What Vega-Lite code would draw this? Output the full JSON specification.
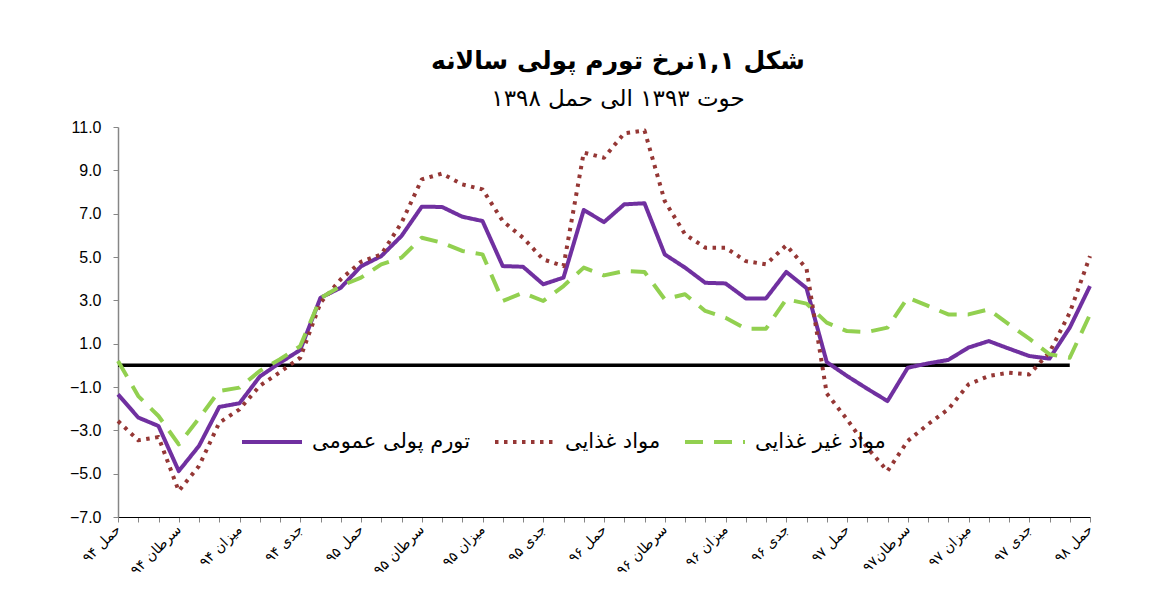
{
  "$schema": "https://vega.github.io/schema/vega-lite/v6.json",
  "width": 972,
  "height": 390,
  "autosize": {"type": "none"},
  "padding": {"left": 118, "top": 127, "right": 72, "bottom": 87},
  "background": "white",
  "title": {
    "text": "شکل ۱,۱نرخ تورم پولی سالانه",
    "subtitle": "حوت ۱۳۹۳ الی حمل ۱۳۹۸",
    "anchor": "middle",
    "dx": 14,
    "offset": 8,
    "font": "DejaVu Sans",
    "fontSize": 25,
    "fontWeight": "bold",
    "color": "black",
    "subtitleFont": "DejaVu Sans",
    "subtitleFontSize": 23,
    "subtitleColor": "black",
    "subtitlePadding": 14
  },
  "config": {"view": {"stroke": null}},
  "layer": [
    {
      "data": {"values": [{}]},
      "mark": {"type": "rule", "color": "black", "strokeWidth": 3.5},
      "encoding": {
        "x": {"datum": "حمل ۹۴", "type": "ordinal"},
        "x2": {"datum": "حوت ۹۷"},
        "y": {"datum": 0, "type": "quantitative"}
      }
    },
    {
      "data": {"values": [
        {"m": "حمل ۹۴", "s": "تورم پولی عمومی", "v": -1.34},
        {"m": "ثور ۹۴", "s": "تورم پولی عمومی", "v": -2.41},
        {"m": "جوزا ۹۴", "s": "تورم پولی عمومی", "v": -2.8},
        {"m": "سرطان ۹۴", "s": "تورم پولی عمومی", "v": -4.88},
        {"m": "اسد ۹۴", "s": "تورم پولی عمومی", "v": -3.72},
        {"m": "سنبله ۹۴", "s": "تورم پولی عمومی", "v": -1.92},
        {"m": "میزان ۹۴", "s": "تورم پولی عمومی", "v": -1.75},
        {"m": "عقرب ۹۴", "s": "تورم پولی عمومی", "v": -0.52},
        {"m": "قوس ۹۴", "s": "تورم پولی عمومی", "v": 0.12},
        {"m": "جدی ۹۴", "s": "تورم پولی عمومی", "v": 0.71},
        {"m": "دلو ۹۴", "s": "تورم پولی عمومی", "v": 3.12},
        {"m": "حوت ۹۴", "s": "تورم پولی عمومی", "v": 3.58},
        {"m": "حمل ۹۵", "s": "تورم پولی عمومی", "v": 4.57},
        {"m": "ثور ۹۵", "s": "تورم پولی عمومی", "v": 5.04},
        {"m": "جوزا ۹۵", "s": "تورم پولی عمومی", "v": 5.97},
        {"m": "سرطان ۹۵", "s": "تورم پولی عمومی", "v": 7.32},
        {"m": "اسد ۹۵", "s": "تورم پولی عمومی", "v": 7.31},
        {"m": "سنبله ۹۵", "s": "تورم پولی عمومی", "v": 6.86},
        {"m": "میزان ۹۵", "s": "تورم پولی عمومی", "v": 6.66},
        {"m": "عقرب ۹۵", "s": "تورم پولی عمومی", "v": 4.58},
        {"m": "قوس ۹۵", "s": "تورم پولی عمومی", "v": 4.55},
        {"m": "جدی ۹۵", "s": "تورم پولی عمومی", "v": 3.74},
        {"m": "دلو ۹۵", "s": "تورم پولی عمومی", "v": 4.05},
        {"m": "حوت ۹۵", "s": "تورم پولی عمومی", "v": 7.17},
        {"m": "حمل ۹۶", "s": "تورم پولی عمومی", "v": 6.61},
        {"m": "ثور ۹۶", "s": "تورم پولی عمومی", "v": 7.43},
        {"m": "جوزا ۹۶", "s": "تورم پولی عمومی", "v": 7.48},
        {"m": "سرطان ۹۶", "s": "تورم پولی عمومی", "v": 5.12},
        {"m": "اسد ۹۶", "s": "تورم پولی عمومی", "v": 4.51},
        {"m": "سنبله ۹۶", "s": "تورم پولی عمومی", "v": 3.81},
        {"m": "میزان ۹۶", "s": "تورم پولی عمومی", "v": 3.78},
        {"m": "عقرب ۹۶", "s": "تورم پولی عمومی", "v": 3.09},
        {"m": "قوس ۹۶", "s": "تورم پولی عمومی", "v": 3.09},
        {"m": "جدی ۹۶", "s": "تورم پولی عمومی", "v": 4.31},
        {"m": "دلو ۹۶", "s": "تورم پولی عمومی", "v": 3.56},
        {"m": "حوت ۹۶", "s": "تورم پولی عمومی", "v": 0.15},
        {"m": "حمل ۹۷", "s": "تورم پولی عمومی", "v": -0.49},
        {"m": "ثور ۹۷", "s": "تورم پولی عمومی", "v": -1.08},
        {"m": "جوزا ۹۷", "s": "تورم پولی عمومی", "v": -1.65},
        {"m": "سرطان۹۷", "s": "تورم پولی عمومی", "v": -0.11},
        {"m": "اسد ۹۷", "s": "تورم پولی عمومی", "v": 0.09},
        {"m": "سنبله ۹۷", "s": "تورم پولی عمومی", "v": 0.25},
        {"m": "میزان ۹۷", "s": "تورم پولی عمومی", "v": 0.82},
        {"m": "عقرب ۹۷", "s": "تورم پولی عمومی", "v": 1.12},
        {"m": "قوس ۹۷", "s": "تورم پولی عمومی", "v": 0.77},
        {"m": "جدی ۹۷", "s": "تورم پولی عمومی", "v": 0.43},
        {"m": "دلو ۹۷", "s": "تورم پولی عمومی", "v": 0.31},
        {"m": "حوت ۹۷", "s": "تورم پولی عمومی", "v": 1.74},
        {"m": "حمل ۹۸", "s": "تورم پولی عمومی", "v": 3.66},

        {"m": "حمل ۹۴", "s": "مواد غذایی", "v": -2.57},
        {"m": "ثور ۹۴", "s": "مواد غذایی", "v": -3.46},
        {"m": "جوزا ۹۴", "s": "مواد غذایی", "v": -3.31},
        {"m": "سرطان ۹۴", "s": "مواد غذایی", "v": -5.8},
        {"m": "اسد ۹۴", "s": "مواد غذایی", "v": -4.65},
        {"m": "سنبله ۹۴", "s": "مواد غذایی", "v": -2.65},
        {"m": "میزان ۹۴", "s": "مواد غذایی", "v": -2.03},
        {"m": "عقرب ۹۴", "s": "مواد غذایی", "v": -0.95},
        {"m": "قوس ۹۴", "s": "مواد غذایی", "v": -0.31},
        {"m": "جدی ۹۴", "s": "مواد غذایی", "v": 0.35},
        {"m": "دلو ۹۴", "s": "مواد غذایی", "v": 2.89},
        {"m": "حوت ۹۴", "s": "مواد غذایی", "v": 3.97},
        {"m": "حمل ۹۵", "s": "مواد غذایی", "v": 4.78},
        {"m": "ثور ۹۵", "s": "مواد غذایی", "v": 5.12},
        {"m": "جوزا ۹۵", "s": "مواد غذایی", "v": 6.58},
        {"m": "سرطان ۹۵", "s": "مواد غذایی", "v": 8.58},
        {"m": "اسد ۹۵", "s": "مواد غذایی", "v": 8.85},
        {"m": "سنبله ۹۵", "s": "مواد غذایی", "v": 8.35},
        {"m": "میزان ۹۵", "s": "مواد غذایی", "v": 8.12},
        {"m": "عقرب ۹۵", "s": "مواد غذایی", "v": 6.66},
        {"m": "قوس ۹۵", "s": "مواد غذایی", "v": 5.89},
        {"m": "جدی ۹۵", "s": "مواد غذایی", "v": 4.89},
        {"m": "دلو ۹۵", "s": "مواد غذایی", "v": 4.58},
        {"m": "حوت ۹۵", "s": "مواد غذایی", "v": 9.82},
        {"m": "حمل ۹۶", "s": "مواد غذایی", "v": 9.58},
        {"m": "ثور ۹۶", "s": "مواد غذایی", "v": 10.71},
        {"m": "جوزا ۹۶", "s": "مواد غذایی", "v": 10.84},
        {"m": "سرطان ۹۶", "s": "مواد غذایی", "v": 7.58},
        {"m": "اسد ۹۶", "s": "مواد غذایی", "v": 6.05},
        {"m": "سنبله ۹۶", "s": "مواد غذایی", "v": 5.43},
        {"m": "میزان ۹۶", "s": "مواد غذایی", "v": 5.43},
        {"m": "عقرب ۹۶", "s": "مواد غذایی", "v": 4.81},
        {"m": "قوس ۹۶", "s": "مواد غذایی", "v": 4.66},
        {"m": "جدی ۹۶", "s": "مواد غذایی", "v": 5.54},
        {"m": "دلو ۹۶", "s": "مواد غذایی", "v": 4.47},
        {"m": "حوت ۹۶", "s": "مواد غذایی", "v": -1.3},
        {"m": "حمل ۹۷", "s": "مواد غذایی", "v": -2.49},
        {"m": "ثور ۹۷", "s": "مواد غذایی", "v": -3.8},
        {"m": "جوزا ۹۷", "s": "مواد غذایی", "v": -4.88},
        {"m": "سرطان۹۷", "s": "مواد غذایی", "v": -3.49},
        {"m": "اسد ۹۷", "s": "مواد غذایی", "v": -2.72},
        {"m": "سنبله ۹۷", "s": "مواد غذایی", "v": -2.03},
        {"m": "میزان ۹۷", "s": "مواد غذایی", "v": -0.88},
        {"m": "عقرب ۹۷", "s": "مواد غذایی", "v": -0.49},
        {"m": "قوس ۹۷", "s": "مواد غذایی", "v": -0.34},
        {"m": "جدی ۹۷", "s": "مواد غذایی", "v": -0.42},
        {"m": "دلو ۹۷", "s": "مواد غذایی", "v": 0.6},
        {"m": "حوت ۹۷", "s": "مواد غذایی", "v": 2.43},
        {"m": "حمل ۹۸", "s": "مواد غذایی", "v": 5.04},

        {"m": "حمل ۹۴", "s": "مواد غیر غذایی", "v": 0.2},
        {"m": "ثور ۹۴", "s": "مواد غیر غذایی", "v": -1.42},
        {"m": "جوزا ۹۴", "s": "مواد غیر غذایی", "v": -2.34},
        {"m": "سرطان ۹۴", "s": "مواد غیر غذایی", "v": -3.65},
        {"m": "اسد ۹۴", "s": "مواد غیر غذایی", "v": -2.45},
        {"m": "سنبله ۹۴", "s": "مواد غیر غذایی", "v": -1.18},
        {"m": "میزان ۹۴", "s": "مواد غیر غذایی", "v": -1.03},
        {"m": "عقرب ۹۴", "s": "مواد غیر غذایی", "v": -0.26},
        {"m": "قوس ۹۴", "s": "مواد غیر غذایی", "v": 0.28},
        {"m": "جدی ۹۴", "s": "مواد غیر غذایی", "v": 0.89},
        {"m": "دلو ۹۴", "s": "مواد غیر غذایی", "v": 3.1},
        {"m": "حوت ۹۴", "s": "مواد غیر غذایی", "v": 3.66},
        {"m": "حمل ۹۵", "s": "مواد غیر غذایی", "v": 4.05},
        {"m": "ثور ۹۵", "s": "مواد غیر غذایی", "v": 4.66},
        {"m": "جوزا ۹۵", "s": "مواد غیر غذایی", "v": 4.97},
        {"m": "سرطان ۹۵", "s": "مواد غیر غذایی", "v": 5.89},
        {"m": "اسد ۹۵", "s": "مواد غیر غذایی", "v": 5.66},
        {"m": "سنبله ۹۵", "s": "مواد غیر غذایی", "v": 5.28},
        {"m": "میزان ۹۵", "s": "مواد غیر غذایی", "v": 5.12},
        {"m": "عقرب ۹۵", "s": "مواد غیر غذایی", "v": 2.97},
        {"m": "قوس ۹۵", "s": "مواد غیر غذایی", "v": 3.35},
        {"m": "جدی ۹۵", "s": "مواد غیر غذایی", "v": 2.97},
        {"m": "دلو ۹۵", "s": "مواد غیر غذایی", "v": 3.66},
        {"m": "حوت ۹۵", "s": "مواد غیر غذایی", "v": 4.51},
        {"m": "حمل ۹۶", "s": "مواد غیر غذایی", "v": 4.15},
        {"m": "ثور ۹۶", "s": "مواد غیر غذایی", "v": 4.35},
        {"m": "جوزا ۹۶", "s": "مواد غیر غذایی", "v": 4.31},
        {"m": "سرطان ۹۶", "s": "مواد غیر غذایی", "v": 3.05},
        {"m": "اسد ۹۶", "s": "مواد غیر غذایی", "v": 3.28},
        {"m": "سنبله ۹۶", "s": "مواد غیر غذایی", "v": 2.51},
        {"m": "میزان ۹۶", "s": "مواد غیر غذایی", "v": 2.2},
        {"m": "عقرب ۹۶", "s": "مواد غیر غذایی", "v": 1.69},
        {"m": "قوس ۹۶", "s": "مواد غیر غذایی", "v": 1.69},
        {"m": "جدی ۹۶", "s": "مواد غیر غذایی", "v": 3.05},
        {"m": "دلو ۹۶", "s": "مواد غیر غذایی", "v": 2.85},
        {"m": "حوت ۹۶", "s": "مواد غیر غذایی", "v": 1.97},
        {"m": "حمل ۹۷", "s": "مواد غیر غذایی", "v": 1.58},
        {"m": "ثور ۹۷", "s": "مواد غیر غذایی", "v": 1.54},
        {"m": "جوزا ۹۷", "s": "مواد غیر غذایی", "v": 1.74},
        {"m": "سرطان۹۷", "s": "مواد غیر غذایی", "v": 3.12},
        {"m": "اسد ۹۷", "s": "مواد غیر غذایی", "v": 2.74},
        {"m": "سنبله ۹۷", "s": "مواد غیر غذایی", "v": 2.35},
        {"m": "میزان ۹۷", "s": "مواد غیر غذایی", "v": 2.35},
        {"m": "عقرب ۹۷", "s": "مواد غیر غذایی", "v": 2.58},
        {"m": "قوس ۹۷", "s": "مواد غیر غذایی", "v": 1.89},
        {"m": "جدی ۹۷", "s": "مواد غیر غذایی", "v": 1.23},
        {"m": "دلو ۹۷", "s": "مواد غیر غذایی", "v": 0.51},
        {"m": "حوت ۹۷", "s": "مواد غیر غذایی", "v": 0.35},
        {"m": "حمل ۹۸", "s": "مواد غیر غذایی", "v": 2.35}
      ]},
      "mark": {"type": "line", "strokeWidth": 4, "strokeCap": "butt", "strokeJoin": "round"},
      "encoding": {
        "x": {
          "field": "m",
          "type": "ordinal",
          "sort": null,
          "scale": {
            "type": "point",
            "padding": 0,
            "domain": ["حمل ۹۴", "ثور ۹۴", "جوزا ۹۴", "سرطان ۹۴", "اسد ۹۴", "سنبله ۹۴", "میزان ۹۴", "عقرب ۹۴", "قوس ۹۴", "جدی ۹۴", "دلو ۹۴", "حوت ۹۴",
                       "حمل ۹۵", "ثور ۹۵", "جوزا ۹۵", "سرطان ۹۵", "اسد ۹۵", "سنبله ۹۵", "میزان ۹۵", "عقرب ۹۵", "قوس ۹۵", "جدی ۹۵", "دلو ۹۵", "حوت ۹۵",
                       "حمل ۹۶", "ثور ۹۶", "جوزا ۹۶", "سرطان ۹۶", "اسد ۹۶", "سنبله ۹۶", "میزان ۹۶", "عقرب ۹۶", "قوس ۹۶", "جدی ۹۶", "دلو ۹۶", "حوت ۹۶",
                       "حمل ۹۷", "ثور ۹۷", "جوزا ۹۷", "سرطان۹۷", "اسد ۹۷", "سنبله ۹۷", "میزان ۹۷", "عقرب ۹۷", "قوس ۹۷", "جدی ۹۷", "دلو ۹۷", "حوت ۹۷",
                       "حمل ۹۸"]
          },
          "axis": {
            "title": null,
            "labelAngle": -45,
            "labelFont": "DejaVu Sans",
            "labelFontSize": 14,
            "labelColor": "black",
            "labelOverlap": false,
            "labelExpr": "(indexof(datum.label,'حمل')==0 || indexof(datum.label,'سرطان')==0 || indexof(datum.label,'میزان')==0 || indexof(datum.label,'جدی')==0) ? datum.label : ''",
            "tickSize": 5,
            "tickColor": "#868686",
            "domainColor": "black",
            "domainWidth": 1,
            "labelPadding": 5,
            "grid": false
          }
        },
        "y": {
          "field": "v",
          "type": "quantitative",
          "scale": {"domain": [-7, 11], "nice": false, "zero": false},
          "axis": {
            "title": null,
            "values": [-7, -5, -3, -1, 1, 3, 5, 7, 9, 11],
            "format": ".1f",
            "labelFont": "Liberation Sans",
            "labelFontSize": 16,
            "labelColor": "black",
            "tickSize": 5,
            "tickColor": "#868686",
            "domainColor": "#868686",
            "domainWidth": 1.5,
            "labelPadding": 12,
            "grid": false
          }
        },
        "color": {
          "field": "s",
          "type": "nominal",
          "sort": null,
          "scale": {
            "domain": ["تورم پولی عمومی", "مواد غذایی", "مواد غیر غذایی"],
            "range": ["#7030A0", "#953735", "#92D050"]
          },
          "legend": {
            "title": null,
            "orient": "none",
            "legendX": 122,
            "legendY": 283,
            "direction": "horizontal",
            "symbolType": "stroke",
            "symbolSize": 3600,
            "symbolStrokeWidth": 4,
            "labelFont": "DejaVu Sans",
            "labelFontSize": 21,
            "labelColor": "black",
            "labelOffset": 8,
            "columnPadding": 16,
            "labelLimit": 300
          }
        },
        "strokeDash": {
          "field": "s",
          "type": "nominal",
          "sort": null,
          "scale": {
            "domain": ["تورم پولی عمومی", "مواد غذایی", "مواد غیر غذایی"],
            "range": [[1, 0], [3.5, 5.5], [18, 11]]
          },
          "legend": {
            "title": null,
            "orient": "none",
            "legendX": 122,
            "legendY": 283,
            "direction": "horizontal",
            "symbolType": "stroke",
            "symbolSize": 3600,
            "symbolStrokeWidth": 4,
            "labelFont": "DejaVu Sans",
            "labelFontSize": 21,
            "labelColor": "black",
            "labelOffset": 8,
            "columnPadding": 16,
            "labelLimit": 300
          }
        }
      }
    }
  ]
}
